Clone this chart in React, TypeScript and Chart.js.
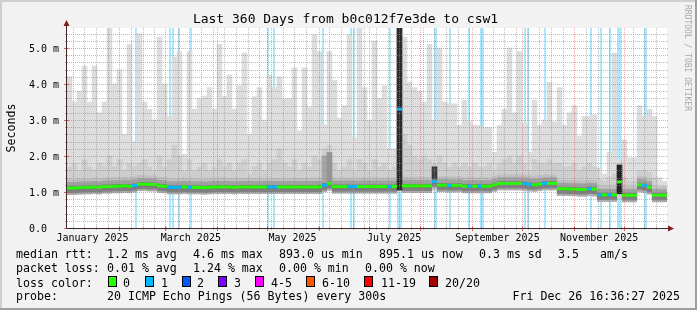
import React, { useEffect, useRef } from 'react';
import { Chart, registerables } from 'chart.js';

Chart.register(...registerables);

// ---------- text ----------
const TITLE = 'Last 360 Days from b0c012f7e3de to csw1';
const Y_TITLE = 'Seconds';
const WATERMARK = 'RRDTOOL / TOBI OETIKER';

// ---------- axes ----------
const RANGE_DAYS = 360; // Dec 31 2024 16:36 .. Dec 26 2025 16:36
const BUCKET_DAYS = 3;
const Y_MAX_MS = 5.5556;
const yMajorTicks = [0, 1, 2, 3, 4, 5];
const yTickLabels = ['0.0', '1.0 m', '2.0 m', '3.0 m', '4.0 m', '5.0 m'];
const yMinorStep = 0.2;
const monthStartDays = [31.31, 59.31, 90.31, 120.31, 151.31, 181.31, 212.31, 243.31, 273.31, 304.31, 334.31];
const monthLabels = ['January 2025', 'March 2025', 'May 2025', 'July 2025', 'September 2025', 'November 2025'];
const monthLabelDays = [15.31, 74.31, 135.31, 196.31, 258.31, 319.31];
const firstWeekDay = 3.7;
const weekDays = 7;

// ---------- series (ms), one value per 3-day bucket ----------
const median = [
  1.11, 1.11, 1.12, 1.13, 1.13, 1.14, 1.13, 1.15, 1.15, 1.16,
  1.16, 1.17, 1.16, 1.18, 1.22, 1.22, 1.21, 1.21, 1.17, 1.16,
  1.13, 1.13, 1.13, 1.14, 1.13, 1.13, 1.13, 1.12, 1.13, 1.14,
  1.14, 1.14, 1.14, 1.13, 1.14, 1.14, 1.14, 1.14, 1.14, 1.14,
  1.14, 1.14, 1.14, 1.14, 1.14, 1.14, 1.14, 1.14, 1.14, 1.14,
  1.14, 1.19, 1.24, 1.15, 1.15, 1.15, 1.15, 1.15, 1.15, 1.15,
  1.15, 1.15, 1.15, 1.15, 1.15, 1.15, 3.30, 1.17, 1.17, 1.17,
  1.17, 1.17, 1.17, 1.29, 1.19, 1.19, 1.18, 1.18, 1.19, 1.16,
  1.16, 1.16, 1.16, 1.16, 1.16, 1.20, 1.24, 1.24, 1.24, 1.24,
  1.24, 1.23, 1.21, 1.20, 1.22, 1.24, 1.24, 1.24, 1.09, 1.09,
  1.08, 1.08, 1.07, 1.07, 1.09, 1.08, 0.92, 0.92, 0.92, 0.92,
  1.28, 0.91, 0.91, 0.91, 1.20, 1.18, 1.13, 0.91, 0.91, 0.91,
];

const smokeMax = [
  4.2, 3.5, 3.8, 4.5, 3.5, 4.5, 3.2, 3.5, 5.56, 4.0,
  4.4, 2.6, 5.1, 2.4, 5.4, 3.5, 3.3, 3.0, 5.3, 4.0,
  3.1, 4.75, 4.9, 2.05, 4.9, 3.3, 3.6, 3.65, 3.9, 3.3,
  5.1, 3.65, 4.25, 3.3, 3.95, 4.86, 2.6, 3.65, 3.9, 3.0,
  4.25, 3.9, 4.2, 3.6, 3.6, 4.45, 2.7, 4.45, 3.35, 5.37,
  4.9, 2.87, 4.9, 4.1, 3.05, 3.4, 5.37, 2.5, 5.56, 3.9,
  3.0, 5.2, 3.6, 3.95, 2.2, 2.2, 5.56, 5.3, 4.05, 3.9,
  3.8, 3.5, 5.1, 3.0, 5.0, 3.5, 3.45, 3.45, 2.85, 3.55,
  2.95, 2.85, 2.85, 2.8, 2.8, 2.1, 2.85, 3.3, 5.0, 3.2,
  4.9, 2.9, 2.1, 3.55, 2.85, 3.0, 4.05, 2.95, 3.9, 2.85,
  3.2, 3.4, 2.55, 3.1, 3.1, 3.15, 1.67, 1.5, 2.1, 4.86,
  1.9, 2.45, 1.95, 1.95, 3.4, 3.1, 3.3, 3.1, 1.4, 1.3,
];

const smokeHi = [
  1.7, 1.8, 1.6, 1.9, 1.7, 1.6, 1.8, 1.7, 2.0, 1.7,
  1.9, 1.6, 1.8, 1.7, 1.8, 1.9, 1.7, 1.6, 2.0, 1.7,
  1.9, 2.3, 2.0, 1.6, 1.9, 1.6, 1.7, 1.8, 1.6, 1.7,
  1.9, 1.7, 1.8, 1.6, 1.8, 1.9, 1.5, 1.7, 1.8, 1.6,
  1.8, 1.9, 2.2, 1.8, 1.7, 1.9, 1.6, 1.8, 1.7, 2.0,
  1.9, 2.2, 2.3, 1.8, 1.6, 1.7, 1.9, 1.6, 1.9, 1.8,
  1.6, 1.9, 1.7, 1.8, 1.6, 1.7, 5.56, 2.6, 2.3, 2.0,
  1.9, 2.0, 1.9, 1.8, 2.0, 1.8, 1.7, 1.8, 1.7, 1.8,
  1.7, 1.8, 1.7, 1.7, 1.8, 1.6, 1.8, 1.9, 2.0, 1.8,
  2.0, 1.8, 1.6, 1.9, 1.8, 1.8, 1.9, 1.8, 1.8, 1.7,
  1.7, 1.8, 1.6, 1.7, 1.8, 1.7, 1.35, 1.3, 1.4, 1.5,
  1.8, 1.4, 1.3, 1.3, 1.6, 1.6, 1.55, 1.4, 1.15, 1.15,
];

const smokeMin = [
  0.98, 0.98, 0.99, 1.0, 1.0, 1.0, 1.0, 1.01, 1.02, 1.02,
  1.02, 1.03, 1.03, 1.04, 1.07, 1.07, 1.07, 1.06, 1.03, 1.02,
  1.0, 1.0, 1.0, 1.0, 1.0, 1.0, 0.99, 0.99, 1.0, 1.0,
  1.0, 1.0, 1.0, 1.0, 1.0, 1.0, 1.0, 1.0, 1.0, 1.0,
  1.0, 1.0, 1.0, 1.0, 1.0, 1.0, 1.0, 1.0, 1.0, 1.0,
  1.0, 1.03, 1.05, 1.01, 1.01, 1.01, 1.01, 1.01, 1.01, 1.01,
  1.01, 1.01, 1.01, 1.01, 1.01, 1.01, 1.02, 1.03, 1.03, 1.03,
  1.03, 1.03, 1.03, 1.05, 1.04, 1.04, 1.03, 1.03, 1.04, 1.02,
  1.02, 1.02, 1.02, 1.02, 1.02, 1.04, 1.09, 1.09, 1.09, 1.09,
  1.09, 1.08, 1.06, 1.07, 1.09, 1.09, 1.09, 1.08, 0.9, 0.9,
  0.9, 0.9, 0.88, 0.88, 0.9, 0.88, 0.8, 0.8, 0.8, 0.8,
  0.82, 0.8, 0.8, 0.8, 1.0, 0.98, 0.95, 0.8, 0.8, 0.8,
];

// lost pings (of 20) per bucket, colours the median mark
const lossCount = [
  0, 0, 0, 0, 0, 0, 0, 0, 0, 0,
  0, 0, 0, 1, 0, 0, 0, 0, 0, 0,
  1, 1, 1, 0, 1, 0, 0, 0, 0, 0,
  0, 0, 0, 0, 0, 0, 0, 0, 0, 0,
  1, 1, 0, 0, 0, 0, 0, 0, 0, 0,
  0, 1, 0, 0, 0, 0, 1, 1, 0, 0,
  0, 0, 0, 0, 1, 0, 1, 0, 0, 0,
  0, 0, 0, 1, 0, 0, 1, 0, 0, 0,
  1, 0, 1, 0, 0, 0, 0, 0, 0, 0,
  0, 1, 1, 0, 0, 1, 0, 0, 0, 0,
  0, 0, 0, 0, 1, 0, 1, 0, 1, 0,
  0, 0, 0, 0, 0, 1, 0, 0, 0, 0,
];

// dense "smoke" columns (bucket index, low, high in ms)
const spikeBuckets = [51, 52, 66, 73, 110];
const spikeLow = [1.28, 1.3, 1.05, 1.36, 0.95];
const spikeHigh = [2.0, 2.1, 5.56, 1.7, 1.75];

// packet loss periods (start/end day)
const lossStart = [40.8, 61.2, 63.0, 66.6, 73.8, 120.0, 123.6, 153.0, 169.8, 171.6, 193.2, 198.0, 220.2, 229.2, 240.6, 247.8, 274.2, 276.0, 286.2, 313.8, 319.8, 325.2, 330.0, 346.2];
const lossEnd = [42.0, 62.4, 64.2, 67.8, 75.0, 121.2, 124.8, 154.2, 171.0, 172.8, 194.4, 201.0, 222.0, 230.4, 241.8, 250.2, 275.4, 277.2, 287.4, 315.0, 321.0, 326.4, 332.4, 348.0];

// ---------- legend ----------
const LOSS_LABELS = ['0', '1', '2', '3', '4-5', '6-10', '11-19', '20/20'];
const LOSS_COLORS = ['#26ff00', '#00b8ff', '#0059ff', '#7e00ff', '#ff00ff', '#ff5500', '#ff0000', '#a10000'];
const rttLegend = ['median rtt:', '1.2 ms avg', '4.6 ms max', '893.0 us min', '895.1 us now', '0.3 ms sd', '3.5', 'am/s'];
const lossLegend = ['packet loss:', '0.01 % avg', '1.24 % max', '0.00 % min', '0.00 % now'];
const probeLegend = ['probe:', '20 ICMP Echo Pings (56 Bytes) every 300s'];
const STAMP = 'Fri Dec 26 16:36:27 2025';

// ---------- style ----------
const MONO = '"DejaVu Sans Mono", "Liberation Mono", monospace';
const BG = '#f2f2f2';
const SHADE_A = '#cfcfcf';
const SHADE_B = '#9e9e9e';
const GRID = 'rgba(143,143,143,0.6)';
const MGRID = 'rgba(222,79,79,0.5)';
const AXIS = '#3a2a2a';
const ARROW = '#801f1f';
const LOSS_BG = '#aee6fa';
const SPIKE_SHADES = ['#a6a6a6', '#959595', '#2a2a2a', '#3a3a3a', '#222222'];
const rttX = [16, 107, 193, 279, 379, 479, 558, 600];
const lossX = [16, 107, 193, 279, 365];
const boxX = [109, 146, 183, 219, 256, 307, 365, 430];
const boxTextX = [123, 161, 197, 234, 271, 322, 381, 445];

function makeBandSprite(): HTMLCanvasElement {
  const c = document.createElement('canvas');
  c.width = 5;
  c.height = 20;
  const g = c.getContext('2d')!;
  const rows: [number, number, string][] = [
    [1, 3, '#bfbfbf'],
    [4, 4, '#a0a0a0'],
    [8, 4, '#747474'],
    [12, 3, '#808080'],
    [15, 2, '#adadad'],
  ];
  rows.forEach(([y, h, col]) => {
    g.fillStyle = col;
    g.fillRect(0, y, 5, h);
  });
  return c;
}

const rrdPlugin = {
  id: 'rrdLook',
  beforeDraw(chart: any) {
    const { ctx, width, height, chartArea: a } = chart;
    ctx.save();
    ctx.fillStyle = BG;
    ctx.fillRect(0, 0, width, height);
    ctx.fillStyle = SHADE_A;
    ctx.fillRect(0, 0, width, 2);
    ctx.fillRect(0, 0, 2, height);
    ctx.fillStyle = SHADE_B;
    ctx.fillRect(0, height - 2, width, 2);
    ctx.fillRect(width - 2, 0, 2, height);
    ctx.fillStyle = '#ffffff';
    ctx.fillRect(a.left, a.top, a.right - a.left, a.bottom - a.top);
    ctx.restore();
  },
  beforeDatasetsDraw(chart: any) {
    const { ctx, chartArea: a, scales } = chart;
    const x = scales.x;
    ctx.save();
    ctx.fillStyle = LOSS_BG;
    lossStart.forEach((d0, i) => {
      const x0 = Math.round(x.getPixelForValue(d0));
      const x1 = Math.round(x.getPixelForValue(lossEnd[i]));
      ctx.fillRect(x0, a.top, Math.max(1, x1 - x0), a.bottom - a.top);
    });
    ctx.restore();
  },
  afterDatasetsDraw(chart: any) {
    const { ctx, chartArea: a, scales } = chart;
    const x = scales.x;
    const y = scales.y;
    ctx.save();
    ctx.lineWidth = 1;
    ctx.setLineDash([1, 1]);
    // horizontal minor grid
    ctx.strokeStyle = GRID;
    const nMinor = Math.floor(Y_MAX_MS / yMinorStep + 1e-6);
    for (let k = 1; k <= nMinor; k++) {
      const v = k * yMinorStep;
      if (Math.abs(v - Math.round(v)) < 1e-6) continue;
      const py = Math.round(y.getPixelForValue(v)) + 0.5;
      ctx.beginPath();
      ctx.moveTo(a.left, py);
      ctx.lineTo(a.right + 1, py);
      ctx.stroke();
    }
    // vertical minor grid (weeks)
    for (let d = firstWeekDay; d < RANGE_DAYS; d += weekDays) {
      if (monthStartDays.some((m) => Math.abs(m - d) < 0.7)) continue;
      const px = Math.floor(x.getPixelForValue(d)) + 0.5;
      ctx.beginPath();
      ctx.moveTo(px, a.top);
      ctx.lineTo(px, a.bottom);
      ctx.stroke();
    }
    // major grid
    ctx.strokeStyle = MGRID;
    yMajorTicks.forEach((v) => {
      if (v === 0) return;
      const py = Math.round(y.getPixelForValue(v)) + 0.5;
      ctx.beginPath();
      ctx.moveTo(a.left, py);
      ctx.lineTo(a.right + 1, py);
      ctx.stroke();
    });
    monthStartDays.forEach((d) => {
      const px = Math.floor(x.getPixelForValue(d)) + 0.5;
      ctx.beginPath();
      ctx.moveTo(px, a.top);
      ctx.lineTo(px, a.bottom);
      ctx.stroke();
    });
    ctx.setLineDash([]);
    // tick marks
    ctx.strokeStyle = GRID;
    for (let d = firstWeekDay; d < RANGE_DAYS; d += weekDays) {
      const px = Math.floor(x.getPixelForValue(d)) + 0.5;
      ctx.beginPath();
      ctx.moveTo(px, a.bottom - 1);
      ctx.lineTo(px, a.bottom + 2);
      ctx.stroke();
    }
    for (let k = 1; k <= nMinor; k++) {
      const py = Math.round(y.getPixelForValue(k * yMinorStep)) + 0.5;
      ctx.beginPath();
      ctx.moveTo(a.left - 2, py);
      ctx.lineTo(a.left + 1, py);
      ctx.stroke();
    }
    ctx.strokeStyle = 'rgba(222,79,79,0.85)';
    monthStartDays.forEach((d) => {
      const px = Math.floor(x.getPixelForValue(d)) + 0.5;
      ctx.beginPath();
      ctx.moveTo(px, a.bottom - 2);
      ctx.lineTo(px, a.bottom + 3);
      ctx.stroke();
    });
    yMajorTicks.forEach((v) => {
      const py = Math.round(y.getPixelForValue(v)) + 0.5;
      ctx.beginPath();
      ctx.moveTo(a.left - 3, py);
      ctx.lineTo(a.left + 2, py);
      ctx.stroke();
    });
    // axes
    ctx.strokeStyle = AXIS;
    ctx.beginPath();
    ctx.moveTo(a.left - 0.5, a.bottom + 0.5);
    ctx.lineTo(a.right + 3, a.bottom + 0.5);
    ctx.moveTo(a.left - 0.5, a.bottom + 0.5);
    ctx.lineTo(a.left - 0.5, a.top - 4);
    ctx.stroke();
    ctx.fillStyle = ARROW;
    ctx.beginPath();
    ctx.moveTo(a.left - 0.5, a.top - 8);
    ctx.lineTo(a.left - 3.5, a.top - 2);
    ctx.lineTo(a.left + 2.5, a.top - 2);
    ctx.closePath();
    ctx.fill();
    ctx.beginPath();
    ctx.moveTo(a.right + 7, a.bottom + 0.5);
    ctx.lineTo(a.right + 1, a.bottom - 2.5);
    ctx.lineTo(a.right + 1, a.bottom + 3.5);
    ctx.closePath();
    ctx.fill();
    ctx.restore();
  },
  afterDraw(chart: any) {
    const { ctx, chartArea: a, scales, width } = chart;
    const x = scales.x;
    const y = scales.y;
    ctx.save();
    ctx.fillStyle = '#000';
    ctx.textBaseline = 'alphabetic';
    // title
    ctx.font = `13px ${MONO}`;
    ctx.textAlign = 'center';
    ctx.fillText(TITLE, 345.5, 23);
    // y tick labels
    ctx.font = `10px ${MONO}`;
    ctx.textAlign = 'left';
    yMajorTicks.forEach((v, i) => {
      ctx.fillText(yTickLabels[i], 29, Math.round(y.getPixelForValue(v)) + 4);
    });
    // x labels
    ctx.textAlign = 'center';
    monthLabels.forEach((lab, i) => {
      ctx.fillText(lab, x.getPixelForValue(monthLabelDays[i]), 240.5);
    });
    // y title
    ctx.font = `11.6px ${MONO}`;
    ctx.save();
    ctx.translate(15, (a.top + a.bottom) / 2);
    ctx.rotate(-Math.PI / 2);
    ctx.textAlign = 'center';
    ctx.fillText(Y_TITLE, 0, 0);
    ctx.restore();
    // watermark
    ctx.save();
    ctx.font = `8px ${MONO}`;
    ctx.fillStyle = '#a8a8a8';
    ctx.translate(width - 12, 5);
    ctx.rotate(Math.PI / 2);
    ctx.textAlign = 'left';
    ctx.fillText(WATERMARK, 0, 0);
    ctx.restore();
    // legend
    ctx.font = `11.6px ${MONO}`;
    ctx.textAlign = 'left';
    rttLegend.forEach((t, i) => ctx.fillText(t, rttX[i], 258));
    lossLegend.forEach((t, i) => ctx.fillText(t, lossX[i], 272));
    ctx.fillText('loss color:', 16, 286.5);
    LOSS_LABELS.forEach((lab, i) => {
      ctx.fillStyle = LOSS_COLORS[i];
      ctx.fillRect(boxX[i], 277, 7, 9);
      ctx.strokeStyle = '#000';
      ctx.lineWidth = 1;
      ctx.strokeRect(boxX[i] - 0.5, 276.5, 8, 10);
      ctx.fillStyle = '#000';
      ctx.fillText(lab, boxTextX[i], 286.5);
    });
    ctx.fillText(probeLegend[0], 16, 300);
    ctx.fillText(probeLegend[1], 107, 300);
    ctx.textAlign = 'right';
    ctx.fillText(STAMP, 680, 300);
    ctx.restore();
  },
};

export default function App() {
  const ref = useRef<HTMLCanvasElement>(null);
  useEffect(() => {
    const canvas = ref.current;
    if (!canvas) return;
    const days = median.map((_, i) => BUCKET_DAYS * (i + 0.5));
    const band = makeBandSprite();
    const barCommon = { grouped: false, barPercentage: 1, categoryPercentage: 1, borderWidth: 0 };
    const chart = new Chart(canvas, {
      type: 'bar',
      data: {
        datasets: [
          {
            ...barCommon,
            type: 'bar',
            label: 'smoke max',
            data: days.map((d, i) => ({ x: d, y: [smokeMin[i], smokeMax[i]] })),
            backgroundColor: '#dddddd',
            order: 9,
          } as any,
          {
            ...barCommon,
            type: 'bar',
            label: 'smoke inner',
            data: days.map((d, i) => ({ x: d, y: [smokeMin[i], smokeHi[i]] })),
            backgroundColor: '#cecece',
            order: 8,
          } as any,
          {
            type: 'line',
            label: 'smoke core',
            data: days.map((d, i) => ({ x: d, y: median[i] })),
            showLine: false,
            pointStyle: band,
            pointRadius: 3,
            order: 7,
          } as any,
          {
            ...barCommon,
            type: 'bar',
            label: 'dense smoke',
            data: spikeBuckets.map((b, k) => ({ x: days[b], y: [spikeLow[k], spikeHigh[k]] })),
            backgroundColor: SPIKE_SHADES,
            order: 6,
          } as any,
          {
            type: 'line',
            label: 'median rtt',
            data: days.map((d, i) => ({ x: d, y: median[i] })),
            showLine: false,
            pointStyle: 'line',
            pointRadius: 2.5,
            pointBorderWidth: 3,
            pointBorderColor: lossCount.map((l) => LOSS_COLORS[l]),
            pointBackgroundColor: lossCount.map((l) => LOSS_COLORS[l]),
            order: 5,
          } as any,
        ],
      },
      options: {
        animation: false,
        responsive: false,
        devicePixelRatio: 1,
        events: [],
        layout: { padding: { left: 67, right: 30, top: 28, bottom: 82 } },
        plugins: {
          legend: { display: false },
          tooltip: { enabled: false },
          title: { display: false },
        },
        scales: {
          x: { type: 'linear', display: false, min: 0, max: RANGE_DAYS, offset: false },
          y: { type: 'linear', display: false, min: 0, max: Y_MAX_MS },
        },
      } as any,
      plugins: [rrdPlugin],
    });
    return () => chart.destroy();
  }, []);
  return (
    <div style={{ position: 'fixed', left: 0, top: 0, width: 697, height: 310 }}>
      <canvas ref={ref} width={697} height={310} style={{ display: 'block' }} />
    </div>
  );
}
